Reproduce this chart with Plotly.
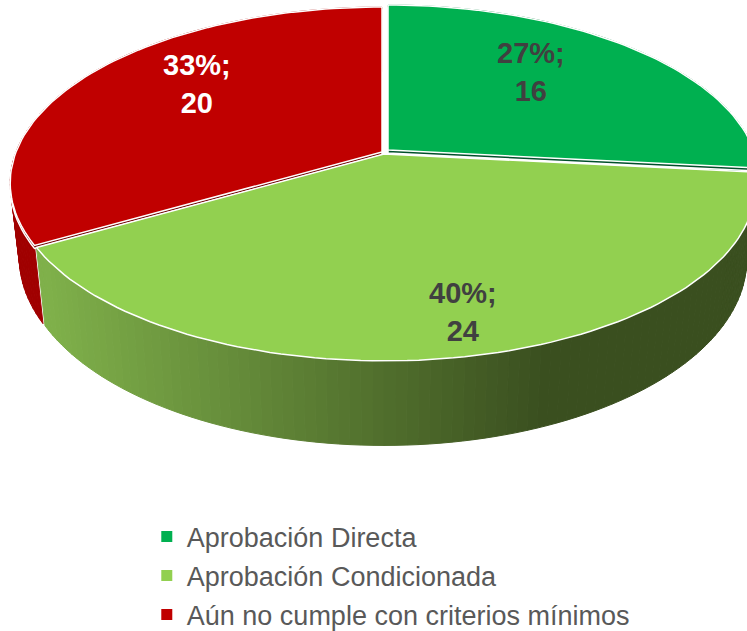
import math
import plotly.graph_objects as go

categories = ["Aprobación Directa", "Aprobación Condicionada", "Aún no cumple con criterios mínimos"]
values = [16, 24, 20]
colors = ["#00B050", "#92D050", "#C00000"]
edge_colors = ["#00502A", "#3D5120", "#6E0000"]
label_colors = ["#404040", "#404040", "#FFFFFF"]

# slice nudges (exploded look) and label centres, in page pixels
offsets = [(4, -3), (0, 1), (-2, -1)]
label_xy = [(531, 72), (463, 312), (197, 84)]

# perspective of the tilted disc
CX, K = 384, 0.176
TOP_A, TOP_Y, TOP_B = 366, 153, 170.5
BOT_A, BOT_Y, BOT_B = 357, 226, 180


def project(deg, r, a, y0, b):
	u = r * math.sin(math.radians(deg))
	v = r * math.cos(math.radians(deg))
	d = 1 + K * v
	return CX + a * u / d, y0 - b * v / d


def wall_color(x):
	left, right = (127, 176, 74), (58, 79, 31)
	t = min(max((x - 45) / (545 - 45), 0), 1)
	return "rgb(%d,%d,%d)" % tuple(round(p + (q - p) * t) for p, q in zip(left, right))


total = sum(values)
spans = []
start = 0
for v in values:
	spans.append((start, start + 360 * v / total))
	start += 360 * v / total

fig = go.Figure()

# draw back slices first, the big front one last
for i in [0, 2, 1]:
	a0, a1 = spans[i]
	dx, dy = offsets[i]
	steps = max(int((a1 - a0) / 1.5), 2)
	angles = [a0 + (a1 - a0) * s / steps for s in range(steps + 1)]

	# outer wall as thin strips
	for p, q in zip(angles[:-1], angles[1:]):
		x0, y0 = project(p, 1, TOP_A, TOP_Y, TOP_B)
		x1, y1 = project(q, 1, TOP_A, TOP_Y, TOP_B)
		x2, y2 = project(q, 1, BOT_A, BOT_Y, BOT_B)
		x3, y3 = project(p, 1, BOT_A, BOT_Y, BOT_B)
		col = wall_color((x0 + x1) / 2) if i == 1 else ("#A00000" if i == 2 else "#00803A")
		fig.add_trace(go.Scatter(
			x=[x0 + dx, x1 + dx, x2 + dx, x3 + dx, x0 + dx],
			y=[y0 + dy, y1 + dy, y2 + dy, y3 + dy, y0 + dy],
			mode="lines", fill="toself", fillcolor=col,
			line={"color": col, "width": 1}, hoverinfo="skip", showlegend=False,
		))

	rim = [project(a, 1, TOP_A, TOP_Y, TOP_B) for a in angles]
	xs = [CX + dx] + [p[0] + dx for p in rim] + [CX + dx]
	ys = [TOP_Y + dy] + [p[1] + dy for p in rim] + [TOP_Y + dy]

	# dark sliver of the cut face showing under the top
	if i != 1:
		fig.add_trace(go.Scatter(
			x=xs, y=[y + 3 for y in ys], mode="lines", fill="toself",
			fillcolor=edge_colors[i], line={"color": "#FFFFFF", "width": 1.5},
			hoverinfo="skip", showlegend=False,
		))
	fig.add_trace(go.Scatter(
		x=xs, y=ys, mode="lines", fill="toself", fillcolor=colors[i],
		line={"color": "#FFFFFF", "width": 1.5},
		hoverinfo="skip", showlegend=False,
	))

for i, name in enumerate(categories):
	fig.add_trace(go.Scatter(
		x=[None], y=[None], mode="markers", name=name, legendgroup=name,
		marker={"symbol": "square", "size": 11, "color": colors[i]},
	))
	pct = round(100 * values[i] / total)
	fig.add_annotation(
		x=label_xy[i][0], y=label_xy[i][1], xref="x", yref="y", showarrow=False,
		text=f"<b>{pct}%;<br>{values[i]}</b>",
		font={"family": "Liberation Sans", "size": 29, "color": label_colors[i]},
	)

fig.update_layout(
	width=747,
	height=631,
	margin={"l": 0, "r": 0, "t": 0, "b": 0, "autoexpand": False},
	paper_bgcolor="#FFFFFF",
	plot_bgcolor="#FFFFFF",
	xaxis={"range": [0, 747], "visible": False, "fixedrange": True},
	yaxis={"range": [631, 0], "visible": False, "fixedrange": True},
	legend={
		"x": 0.1965, "y": 0.188, "xanchor": "left", "yanchor": "top",
		"font": {"family": "Liberation Sans", "size": 27, "color": "#595959"},
		"tracegroupgap": 1, "itemwidth": 30, "bgcolor": "rgba(0,0,0,0)",
	},
	showlegend=True,
)

fig.write_html("out.html", config={"displayModeBar": False}, post_script="document.body.style.margin='0';")
